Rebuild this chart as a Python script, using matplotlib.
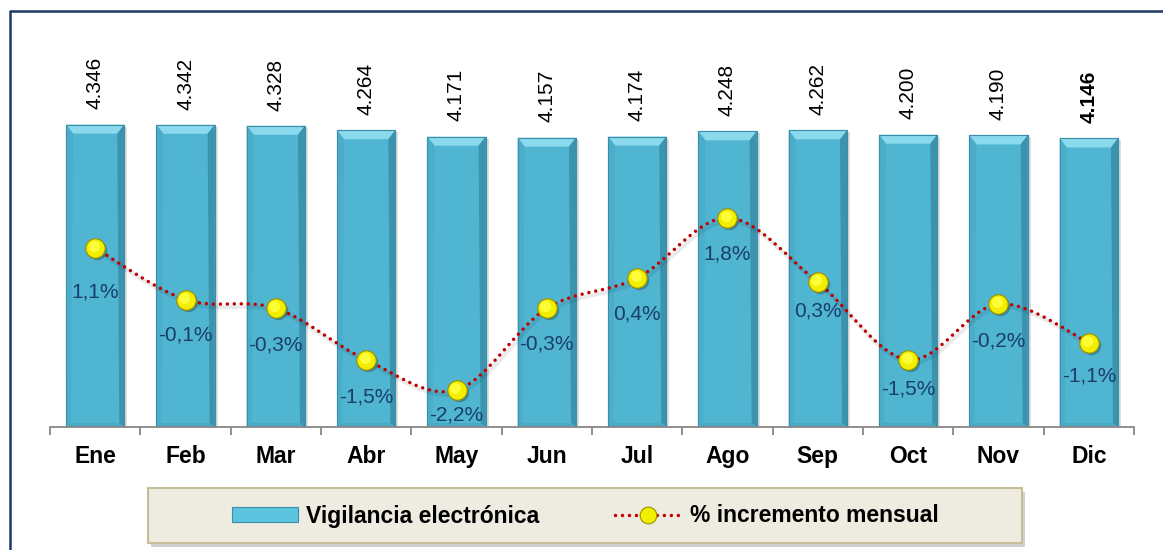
import matplotlib
matplotlib.use('Agg')
import matplotlib.pyplot as plt
import matplotlib.transforms as mtransforms
from matplotlib.path import Path
from matplotlib.patches import PathPatch, Rectangle, Polygon, Patch
from matplotlib.lines import Line2D
import numpy as np

# ---------------- data ----------------
months = ['Ene', 'Feb', 'Mar', 'Abr', 'May', 'Jun', 'Jul', 'Ago', 'Sep', 'Oct', 'Nov', 'Dic']
vigilancia = [4346, 4342, 4328, 4264, 4171, 4157, 4174, 4248, 4262, 4200, 4190, 4146]
incremento = [1.1, -0.1, -0.3, -1.5, -2.2, -0.3, 0.4, 1.8, 0.3, -1.5, -0.2, -1.1]
series_names = ['Vigilancia electrónica', '% incremento mensual']

# label offsets below the markers (pixels) - styling only
pct_offsets_px = [44, 35, 37, 37, 25, 36, 36, 36, 29, 29, 37, 33]

plt.rcParams['font.family'] = ['Liberation Sans', 'DejaVu Sans']

W, H = 1163, 550
fig = plt.figure(figsize=(W / 100, H / 100), dpi=100)

L, R, B, T = 50, 1134, 427, 20
ax = fig.add_axes([L / W, 1 - B / H, (R - L) / W, (B - T) / H])
ymax = 5848
ax.set_xlim(-0.5, 11.5)
ax.set_ylim(0, ymax)

x = np.arange(len(months))
bar_color = '#4fb5d1'
bar_w = 0.645

pxx = (R - L) / 12.0
pxy = (B - T) / ymax

# shadow
ax.bar(x + 3 / pxx, np.array(vigilancia) - 2 / pxy, width=bar_w, color='#000000',
       alpha=0.13, linewidth=0, zorder=1)
bars = ax.bar(x, vigilancia, width=bar_w, color=bar_color, edgecolor='#3a8ea8',
              linewidth=0.8, zorder=2)

# bevel decorations
for bar in bars:
    x0 = bar.get_x(); w = bar.get_width(); h = bar.get_height()
    bx = 7 / pxx; by = 9 / pxy; bxs = 5 / pxx; bb = 4 / pxy
    ax.add_patch(Polygon([(x0, h), (x0 + w, h), (x0 + w - bx, h - by), (x0 + bx, h - by)],
                         closed=True, facecolor='#8bd9ec', edgecolor='none', zorder=2.1))
    ax.add_patch(Polygon([(x0, 0), (x0, h), (x0 + bx, h - by), (x0 + bxs, bb)],
                         closed=True, facecolor='#4badc9', edgecolor='none', zorder=2.1))
    ax.add_patch(Polygon([(x0 + w, 0), (x0 + w, h), (x0 + w - bx, h - by), (x0 + w - bxs, bb)],
                         closed=True, facecolor='#3b93ae', edgecolor='none', zorder=2.1))
    ax.add_patch(Polygon([(x0, 0), (x0 + w, 0), (x0 + w - bxs, bb), (x0 + bxs, bb)],
                         closed=True, facecolor='#4aa8c3', edgecolor='none', zorder=2.1))
    ax.add_patch(Rectangle((x0, 0), w, h, facecolor='none', edgecolor='#3a8ea8',
                           linewidth=0.8, zorder=2.2))

# bar value labels
for i, v in enumerate(vigilancia):
    txt = f'{v:,}'.replace(',', '.')
    ax.annotate(txt, xy=(i, v), xytext=(0, 11), textcoords='offset points',
                rotation=90, ha='center', va='bottom', fontsize=15, color='black',
                fontweight='bold' if i == len(vigilancia) - 1 else 'normal', zorder=5)

# axes styling
for s in ['left', 'right', 'top']:
    ax.spines[s].set_visible(False)
ax.spines['bottom'].set_color('#878787')
ax.spines['bottom'].set_linewidth(1.3)
ax.set_yticks([])
ax.set_xticks(x)
ax.set_xticklabels(months, fontsize=16.5, fontweight='bold')
ax.tick_params(axis='x', which='major', length=0, pad=13)
ax.set_xticks(np.arange(-0.5, 12, 1), minor=True)
ax.tick_params(axis='x', which='minor', length=5.5, width=1.3, color='#878787', direction='out')

# secondary axis for % line
ax2 = ax.twinx()
ax2.set_ylim(-3.06, 6.40)
ax2.set_xlim(-0.5, 11.5)
ax2.axis('off')

pts = np.column_stack([x, incremento]).astype(float)
n = len(pts)
verts = [tuple(pts[0])]
codes = [Path.MOVETO]
for i in range(n - 1):
    p0 = pts[max(i - 1, 0)]; p1 = pts[i]; p2 = pts[i + 1]; p3 = pts[min(i + 2, n - 1)]
    c1 = p1 + (p2 - p0) / 6.0
    c2 = p2 - (p3 - p1) / 6.0
    verts += [tuple(c1), tuple(c2), tuple(p2)]
    codes += [Path.CURVE4] * 3
path = Path(verts, codes)
sh = mtransforms.offset_copy(ax2.transData, fig=fig, x=2, y=-3, units='dots')
ax2.add_patch(PathPatch(path, fill=False, edgecolor='#000000', alpha=0.08, lw=3,
                        transform=sh, zorder=2.9))
ax2.add_patch(PathPatch(path, fill=False, edgecolor='#c00000', lw=2.5,
                        linestyle=(0, (0.01, 2.0)), capstyle='round', zorder=3))

msh = mtransforms.offset_copy(ax2.transData, fig=fig, x=2, y=-2, units='dots')
ax2.plot(x, incremento, 'o', ms=14, mfc='#000000', mec='none', alpha=0.25,
         transform=msh, zorder=3.5)
ax2.plot(x, incremento, 'o', ms=14, mfc='#f2ee00', mec='#9c9000', mew=0.8, zorder=4)
hl = mtransforms.offset_copy(ax2.transData, fig=fig, x=-1.5, y=2, units='dots')
ax2.plot(x, incremento, 'o', ms=8, mfc='#ffff40', mec='none', alpha=0.9,
         transform=hl, zorder=4.1)

for i, v in enumerate(incremento):
    txt = f'{v:.1f}%'.replace('.', ',')
    ax2.annotate(txt, xy=(i, v), xytext=(0, -pct_offsets_px[i] * 0.72),
                 textcoords='offset points', ha='center', va='center',
                 fontsize=15, color='#1a3d6e', zorder=5)

# outer frame lines (left & top)
fig.add_artist(Line2D([10 / W, 10 / W, 1.0], [0.0, 1 - 11 / H, 1 - 11 / H],
                      color='#1f3864', lw=1.8, transform=fig.transFigure))

# legend box
fig.add_artist(Rectangle((151 / W, 1 - 547 / H), 874 / W, 55 / H, transform=fig.transFigure,
                         facecolor='#000000', alpha=0.18, edgecolor='none'))
fig.add_artist(Rectangle((148 / W, 1 - 543 / H), 874 / W, 55 / H, transform=fig.transFigure,
                         facecolor='#eeece1', edgecolor='#c4bd97', lw=1.5))

handles = [Patch(facecolor='#5cc4de', edgecolor='#3a8ea8', lw=0.8),
           Line2D([], [], color='#c00000', ls=(0, (0.01, 2.0)), lw=2.5,
                  dash_capstyle='round', marker='o', ms=12, mfc='#f2ee00',
                  mec='#9c9000', mew=0.8)]
fig.legend(handles, series_names, loc='center', bbox_to_anchor=(585 / W, 1 - 516 / H),
           ncol=2, frameon=False, prop=dict(weight='bold', size=16.5),
           handlelength=2.9, handleheight=0.65, columnspacing=3.3, handletextpad=0.35)

fig.savefig('out.png', dpi=100)
